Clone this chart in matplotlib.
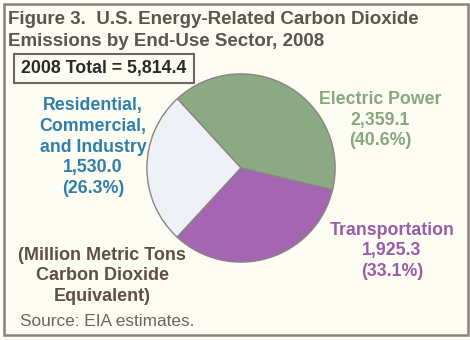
import matplotlib
matplotlib.use("Agg")
import matplotlib.pyplot as plt
from matplotlib.patches import Rectangle

plt.rcParams['font.family'] = ['Liberation Sans', 'DejaVu Sans']

sectors = ["Electric Power", "Residential,\nCommercial,\nand Industry", "Transportation"]
emissions = [2359.1, 1530.0, 1925.3]
shares = [40.6, 26.3, 33.1]
total = 5814.4
colors = ["#8ba983", "#edf1f5", "#a466b3"]
label_colors = ["#86a77f", "#2f7fab", "#9b5aab"]

W, H = 470, 340
fig = plt.figure(figsize=(W / 100, H / 100), dpi=100, facecolor="#fdfdf4")

def fx(x):
    return x / W

def fy(y):
    return 1 - y / H

# outer frame
fig.patches.append(Rectangle((fx(4), fy(335)), fx(464), (331) / H, transform=fig.transFigure,
                             fill=False, edgecolor="#8a817b", linewidth=1.8))

# title
fig.text(fx(8), fy(19), "Figure 3.  U.S. Energy-Related Carbon Dioxide", fontsize=13.5,
         fontweight="bold", color="#5d544f", va="center", ha="left")
fig.text(fx(8), fy(41), "Emissions by End-Use Sector, 2008", fontsize=13.5,
         fontweight="bold", color="#5d544f", va="center", ha="left")

# total box
fig.text(fx(104), fy(69), f"2008 Total = {total:,.1f}", fontsize=12.8, fontweight="bold",
         color="#2a2a2a", va="center", ha="center")
fig.patches.append(Rectangle((fx(14), fy(83)), fx(180), 29 / H, transform=fig.transFigure,
                             facecolor="none", edgecolor="#6e6661", linewidth=1.5))

# pie
cx, cy, r = 241, 168, 96
ax = fig.add_axes([fx(cx - r), fy(cy + r), 2 * r / W, 2 * r / H])
ax.pie(emissions, colors=colors, startangle=-13.5, counterclock=True, radius=1,
       wedgeprops=dict(edgecolor="#8a8580", linewidth=1.0))
ax.set_xlim(-1.02, 1.02)
ax.set_ylim(-1.02, 1.02)
ax.set_aspect("auto")
ax.axis("off")

# sector labels
positions = [(380, 120), (93, 147), (392, 251)]
for name, val, pct, col, (x, y) in zip(sectors, emissions, shares, label_colors, positions):
    fig.text(fx(x), fy(y), f"{name}\n{val:,.1f}\n({pct}%)", fontsize=12.8, fontweight="bold",
             color=col, ha="center", va="center", linespacing=1.3)

fig.text(fx(102), fy(276), "(Million Metric Tons\nCarbon Dioxide\nEquivalent)", fontsize=13,
         fontweight="bold", color="#5e4e44", ha="center", va="center", linespacing=1.3)

fig.text(fx(20), fy(322), "Source: EIA estimates.", fontsize=12.4, color="#6b6561",
         ha="left", va="center")

fig.savefig("out.png", dpi=100, facecolor=fig.get_facecolor())
